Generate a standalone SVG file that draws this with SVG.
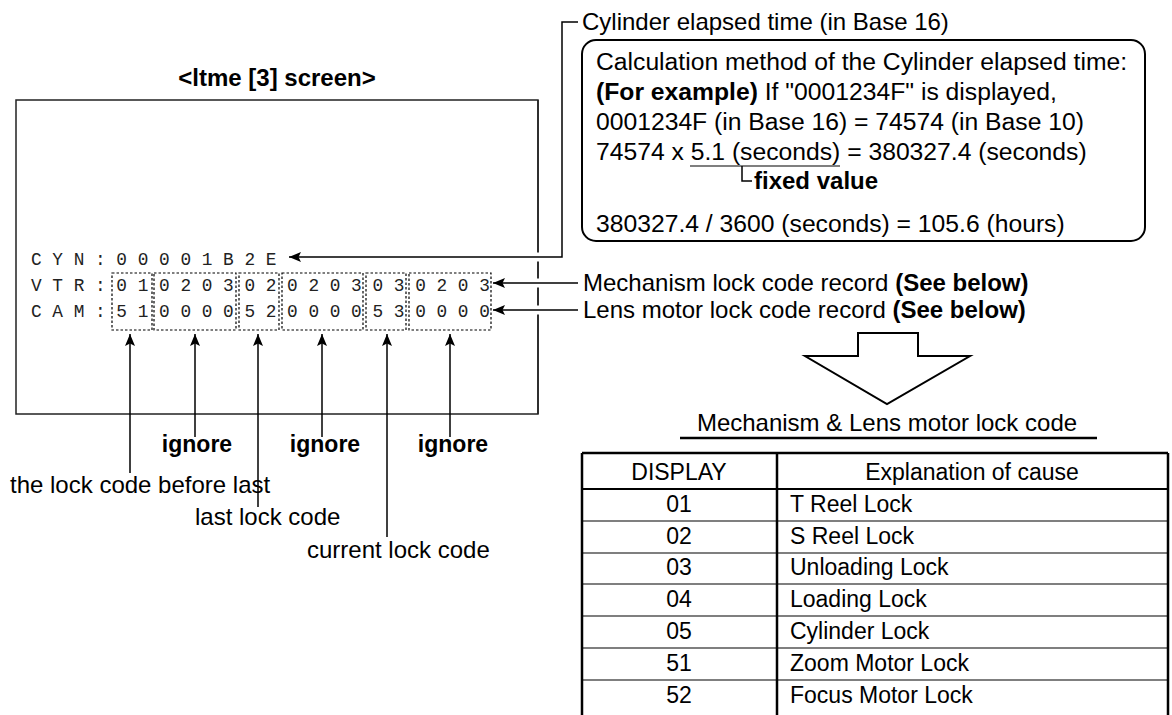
<svg xmlns="http://www.w3.org/2000/svg" width="1172" height="715" viewBox="0 0 1172 715">
<style>
.t{font-family:"Liberation Sans",Arial,Helvetica,sans-serif;font-size:24px;fill:#000}
.s{font-size:23px}
.k{font-size:24.7px}
.b{font-weight:bold}
.c{text-anchor:middle}
.m{font-family:"Liberation Mono","Courier New",monospace;font-size:17.8px;fill:#222}
.ln{stroke:#000;stroke-width:1.5;fill:none}
.halo{stroke:#fff;stroke-width:9;fill:none}
.dot{stroke:#000;stroke-width:1.2;stroke-dasharray:2.5 2;fill:none}
.thin{stroke:#000;stroke-width:1.2}
.thick{stroke:#000;stroke-width:2.5}
</style>
<defs>
<marker id="ah" viewBox="0 0 12 10" refX="12" refY="5" markerWidth="12" markerHeight="10" markerUnits="userSpaceOnUse" orient="auto">
<path d="M0,0 L12,5 L0,10 L2.5,5 z" fill="#000"/>
</marker>
</defs>

<g id="screen">
<text class="t b c" x="277" y="86">&lt;ltme [3] screen&gt;</text>
<rect x="16" y="100" width="522" height="314" fill="#fff" stroke="#222" stroke-width="1.5"/>
<text class="m" x="31" y="265" xml:space="preserve">C Y N : 0 0 0 0 1 B 2 E</text>
<text class="m" x="31" y="291" xml:space="preserve">V T R : 0 1 0 2 0 3 0 2 0 2 0 3 0 3 0 2 0 3</text>
<text class="m" x="31" y="317" xml:space="preserve">C A M : 5 1 0 0 0 0 5 2 0 0 0 0 5 3 0 0 0 0</text>
<rect class="dot" x="112" y="273" width="40" height="57"/>
<rect class="dot" x="154" y="273" width="82" height="57"/>
<rect class="dot" x="239" y="273" width="40" height="57"/>
<rect class="dot" x="282" y="273" width="81" height="57"/>
<rect class="dot" x="366" y="273" width="40" height="57"/>
<rect class="dot" x="409" y="273" width="82" height="57"/>
</g>

<g id="cylinder-box">
<text class="t" x="582" y="30">Cylinder elapsed time (in Base 16)</text>
<rect x="582" y="40" width="563" height="201" rx="14" ry="14" fill="#fff" stroke="#000" stroke-width="2"/>
<text class="t k" x="596" y="70">Calculation method of the Cylinder elapsed time:</text>
<text class="t k" x="596" y="100"><tspan class="b">(For example)</tspan> If "0001234F" is displayed,</text>
<text class="t k" x="596" y="130">0001234F (in Base 16) = 74574 (in Base 10)</text>
<text class="t k" x="596" y="160">74574 x 5.1 (seconds) = 380327.4 (seconds)</text>
<line class="thin" x1="690" y1="166" x2="840" y2="166"/>
<path class="ln" d="M742,166 V181 H752" stroke-width="1.2"/>
<text class="t b" x="754" y="189">fixed value</text>
<text class="t k" x="596" y="232">380327.4 / 3600 (seconds) = 105.6 (hours)</text>
</g>

<g id="record-labels">
<text class="t" x="583" y="291">Mechanism lock code record <tspan class="b">(See below)</tspan></text>
<text class="t" x="583" y="318">Lens motor lock code record <tspan class="b">(See below)</tspan></text>
</g>

<g id="bottom-labels">
<text class="t s b c" x="197" y="452">ignore</text>
<text class="t s b c" x="325" y="452">ignore</text>
<text class="t s b c" x="453" y="452">ignore</text>
<text class="t" x="10" y="493" font-size="22">the lock code before last</text>
<text class="t" x="195" y="525">last lock code</text>
<text class="t" x="307" y="558">current lock code</text>
</g>

<g id="connectors">
<line x1="538" y1="100" x2="538" y2="414" stroke="#222" stroke-width="1.5"/>
<path class="halo" d="M548,257 H528 M548,283 H528 M548,310 H528"/>
<path class="ln" d="M578,22 H562 V257 H289" marker-end="url(#ah)"/>
<path class="ln" d="M578,283 H493" marker-end="url(#ah)"/>
<path class="ln" d="M578,310 H493" marker-end="url(#ah)"/>
<path class="ln" d="M130,473 V334" marker-end="url(#ah)"/>
<path class="ln" d="M195,437 V334" marker-end="url(#ah)"/>
<path class="ln" d="M258,507 V334" marker-end="url(#ah)"/>
<path class="ln" d="M322,437 V334" marker-end="url(#ah)"/>
<path class="ln" d="M387,537 V334" marker-end="url(#ah)"/>
<path class="ln" d="M450,437 V334" marker-end="url(#ah)"/>
<polygon points="858,333 918,333 918,356 970,356 887,404 805,356 858,356" fill="#fff" stroke="#000" stroke-width="2" stroke-linejoin="miter"/>
</g>

<g id="lock-code-table">
<text class="t c" x="887" y="431">Mechanism &amp; Lens motor lock code</text>
<line x1="680" y1="438" x2="1097" y2="438" stroke="#000" stroke-width="2.5"/>
<line class="thick" x1="582" y1="453" x2="1168" y2="453"/>
<line class="thick" x1="582" y1="453" x2="582" y2="715"/>
<line class="thick" x1="1168" y1="453" x2="1168" y2="715"/>
<line class="thick" x1="777" y1="453" x2="777" y2="715"/>
<line x1="582" y1="489" x2="1168" y2="489" stroke="#000" stroke-width="1.8"/>
<line class="thin" x1="582" y1="521" x2="1168" y2="521"/>
<line class="thin" x1="582" y1="553" x2="1168" y2="553"/>
<line class="thin" x1="582" y1="584" x2="1168" y2="584"/>
<line class="thin" x1="582" y1="616" x2="1168" y2="616"/>
<line class="thin" x1="582" y1="648" x2="1168" y2="648"/>
<line class="thin" x1="582" y1="680" x2="1168" y2="680"/>
<g class="t s">
<text class="c" x="679" y="480">DISPLAY</text>
<text class="c" x="972" y="480">Explanation of cause</text>
<text class="c" x="679" y="512">01</text><text x="790" y="512">T Reel Lock</text>
<text class="c" x="679" y="544">02</text><text x="790" y="544">S Reel Lock</text>
<text class="c" x="679" y="575">03</text><text x="790" y="575">Unloading Lock</text>
<text class="c" x="679" y="607">04</text><text x="790" y="607">Loading Lock</text>
<text class="c" x="679" y="639">05</text><text x="790" y="639">Cylinder Lock</text>
<text class="c" x="679" y="671">51</text><text x="790" y="671">Zoom Motor Lock</text>
<text class="c" x="679" y="703">52</text><text x="790" y="703">Focus Motor Lock</text>
</g>
</g>
</svg>
